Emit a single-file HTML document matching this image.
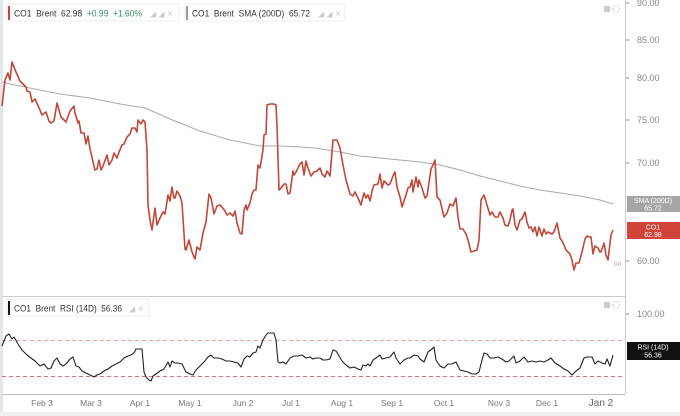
<!DOCTYPE html>
<html><head><meta charset="utf-8"><style>
body{margin:0;background:#fff;font-family:"Liberation Sans",sans-serif}
svg{display:block}
text{font-family:"Liberation Sans",sans-serif;white-space:pre}
</style></head><body>
<svg width="680" height="416" viewBox="0 0 680 416" xmlns="http://www.w3.org/2000/svg" xml:space="preserve">
<rect width="680" height="416" fill="#fff"/>
<rect x="0" y="0" width="3" height="416" fill="#e4e7ea"/>
<line x1="625.5" y1="0" x2="625.5" y2="394" stroke="#ccc"/>
<line x1="2" y1="296.5" x2="625" y2="296.5" stroke="#ccc"/>
<line x1="2" y1="394.5" x2="625" y2="394.5" stroke="#bbb"/>
<rect x="0" y="412" width="680" height="4" fill="#eef0f2"/>
<g font-size="9" fill="#888">
<text x="637" y="6">90.00</text>
<text x="637" y="43">85.00</text>
<text x="637" y="81">80.00</text>
<text x="637" y="123">75.00</text>
<text x="637" y="166">70.00</text>
<text x="637" y="264">60.00</text>
<text x="637" y="317">100.00</text>
</g>
<g stroke="#888"><line x1="626" y1="3" x2="629" y2="3"/><line x1="626" y1="40" x2="629" y2="40"/><line x1="626" y1="78" x2="629" y2="78"/><line x1="626" y1="120" x2="629" y2="120"/><line x1="626" y1="163" x2="629" y2="163"/><line x1="626" y1="261" x2="629" y2="261"/><line x1="626" y1="314" x2="629" y2="314"/></g>
<text x="614" y="266" font-size="5" fill="#888">0.0</text>
<g font-size="8.5" fill="#777" text-anchor="middle">
<text x="42" y="406">Feb 3</text><text x="91" y="406">Mar 3</text><text x="140" y="406">Apr 1</text>
<text x="190" y="406">May 1</text><text x="243" y="406">Jun 2</text><text x="291" y="406">Jul 1</text>
<text x="342" y="406">Aug 1</text><text x="392" y="406">Sep 1</text><text x="444" y="406">Oct 1</text>
<text x="499" y="406">Nov 3</text><text x="547" y="406">Dec 1</text>
<text x="601" y="406" font-size="10" fill="#666">Jan 2</text>
</g>
<polyline fill="none" stroke="#aaa" stroke-width="1" points="2,82 10,84 30,88 60,94 90,98 120,104 145,108 170,119 200,131 230,140 260,146 280,146 300,147 315,148 340,152 360,156 380,158 400,160 420,162 440,165 460,170 480,176 500,181 520,186 540,190 560,193 580,196 600,200 613,204"/>
<polyline fill="none" stroke="#c0473a" stroke-width="1.6" stroke-linejoin="round" points="2,106 5,80 8,73 10,80 12,62 16,72 20,81 26,87 27,91 30,92 32,102 35,99 40,110 42,115 46,112 49,121 51,123 54,121 57,103 61,117 63,119 66,122 70,111 74,106 75,113 78,123 79,121 81,133 84,133 86,144 88,136 90,149 93,162 95,170 97,169 99,160 101,170 103,166 107,155 109,165 112,160 114,153 117,158 119,152 122,145 124,144 127,137 130,134 132,128 135,128 137,132 138,120 141,124 143,120 145,122 147,150 148,205 150,220 152,230 155,208 157,225 160,218 163,212 165,214 168,195 170,201 172,187 174,198 175,198 177,191 180,196 182,203 185,249 186,250 189,240 192,252 195,259 197,247 200,250 203,233 206,222 209,194 211,198 214,214 217,206 220,205 222,207 225,211 227,215 230,213 233,216 235,211 237,223 240,233 242,234 244,210 246,205 247,210 250,203 252,194 254,190 256,190 258,165 260,168 263,150 264,135 266,134 267,105 270,104 274,104 276,105 277,125 279,190 281,188 284,184 286,184 288,194 290,193 293,171 294,175 296,172 300,164 302,162 304,175 306,161 308,168 311,176 314,172 317,171 320,168 322,174 325,177 327,171 330,176 333,140 337,140 340,148 343,165 346,180 350,194 353,196 355,192 358,198 361,205 364,193 366,198 368,195 370,201 372,191 374,185 378,184 380,174 382,188 384,181 386,183 388,185 390,184 393,176 395,172 397,187 400,197 402,207 406,195 408,188 410,187 412,180 413,192 416,177 418,187 419,180 422,188 425,198 427,196 431,169 433,165 435,160 437,197 440,200 444,217 447,213 450,204 453,206 456,198 458,217 460,229 463,229 466,234 468,240 471,252 474,251 477,250 479,240 481,200 484,195 487,205 490,215 492,212 495,217 498,217 500,212 503,218 505,225 508,226 510,220 512,210 513,209 515,225 517,230 520,220 522,219 525,212 527,222 529,228 531,227 533,232 535,227 537,236 539,227 542,236 544,229 546,234 548,232 552,234 554,232 557,223 560,238 562,241 564,245 566,250 570,254 572,260 574,270 576,263 579,263 582,252 585,239 587,236 590,237 591,237 593,254 595,246 598,248 600,252 601,252 604,243 606,255 608,260 611,235 613,230"/>
<line x1="2" y1="340.5" x2="625" y2="340.5" stroke="#e8a0a0" stroke-dasharray="4,3"/>
<line x1="2" y1="376.5" x2="625" y2="376.5" stroke="#e07070" stroke-dasharray="4,3"/>
<polyline fill="none" stroke="#222" stroke-width="1.1" stroke-linejoin="round" points="2,346 6,336 9,334 12,339 14,337 18,344 22,350 27,355 31,358 35,361 40,366 44,364 48,369 51,368 54,361 57,358 60,364 63,366 66,364 70,359 73,357 76,366 79,367 82,371 86,373 90,375 94,377 97,375 100,374 104,371 108,369 112,366 116,364 120,362 124,358 128,356 131,355 134,353 136,349 139,349 142,349 144,372 146,377 149,380 151,381 153,376 156,374 160,371 164,369 168,362 170,367 172,361 175,363 178,363 182,364 186,372 190,374 193,375 196,370 200,366 204,362 208,357 211,355 214,358 218,358 222,359 226,361 230,361 234,362 238,363 241,367 244,359 247,356 250,357 253,353 256,352 258,346 260,348 263,340 266,335 268,333 274,333 276,340 278,362 280,363 283,362 286,364 290,358 294,356 298,356 302,355 306,358 310,357 313,359 316,358 320,358 323,360 326,360 330,359 333,350 336,351 338,354 342,361 346,365 350,368 354,367 358,369 361,370 363,365 366,366 368,364 370,366 373,360 376,358 380,355 382,359 386,358 390,357 394,352 396,358 400,364 404,360 408,358 410,358 414,355 418,356 420,359 424,362 428,352 432,349 434,347 436,360 440,366 444,368 448,364 452,364 456,362 460,370 464,371 468,372 472,374 476,374 479,372 482,360 484,353 487,354 490,358 494,358 498,357 502,359 506,362 509,361 512,358 514,356 516,363 520,361 524,357 528,362 532,361 536,362 540,361 544,362 548,360 551,358 555,363 560,366 564,369 568,371 572,375 576,371 580,368 584,358 587,357 592,357 595,364 598,361 602,363 605,364 607,359 610,366 613,355"/>
<rect x="7" y="4" width="172" height="17" fill="#fff" stroke="#eee"/>
<rect x="8" y="6" width="2" height="14" fill="#c0473a"/>
<text x="14" y="16.5" font-size="9" fill="#333" textLength="128" lengthAdjust="spacingAndGlyphs">CO1  Brent  62.98  <tspan fill="#2e8b57">+0.99  +1.60%</tspan></text>
<text x="150" y="16.5" font-size="8" fill="#ccc">◢ ◢ ✕</text>
<rect x="185" y="4" width="160" height="17" fill="#fff" stroke="#eee"/>
<rect x="186" y="6" width="2" height="14" fill="#999"/>
<text x="192" y="16.5" font-size="9" fill="#333" textLength="118" lengthAdjust="spacingAndGlyphs">CO1  Brent  SMA (200D)  65.72</text>
<text x="318" y="16.5" font-size="8" fill="#ccc">◢ ◢ ✕</text>
<rect x="7" y="299" width="142" height="17" fill="#fff" stroke="#eee"/>
<rect x="8" y="301" width="2" height="14" fill="#111"/>
<text x="14" y="311.5" font-size="9" fill="#333" textLength="108" lengthAdjust="spacingAndGlyphs">CO1  Brent  RSI (14D)  56.36</text>
<text x="129" y="311.5" font-size="8" fill="#ccc">◢ ✕</text>
<rect x="604" y="6" width="6" height="6" fill="#ccc"/><rect x="613" y="6" width="6" height="6" fill="none" stroke="#ccc" stroke-dasharray="2,2"/>
<rect x="604" y="302" width="6" height="6" fill="#ccc"/><rect x="613" y="302" width="6" height="6" fill="none" stroke="#ccc" stroke-dasharray="2,2"/>
<rect x="627" y="196" width="53" height="16" fill="#a6a6a6"/>
<text x="653" y="203" font-size="7" fill="#fff" text-anchor="middle">SMA (200D)</text>
<text x="653" y="210.5" font-size="7" fill="#fff" text-anchor="middle">65.72</text>
<rect x="627" y="222" width="53" height="17" fill="#d0443a"/>
<text x="653" y="229.5" font-size="7" fill="#fff" text-anchor="middle">CO1</text>
<text x="653" y="237" font-size="7" fill="#fff" text-anchor="middle">62.98</text>
<rect x="627" y="342" width="53" height="18" fill="#111"/>
<text x="653" y="349.5" font-size="7" fill="#fff" text-anchor="middle">RSI (14D)</text>
<text x="653" y="357.5" font-size="7" fill="#fff" text-anchor="middle">56.36</text>
</svg>
</body></html>
